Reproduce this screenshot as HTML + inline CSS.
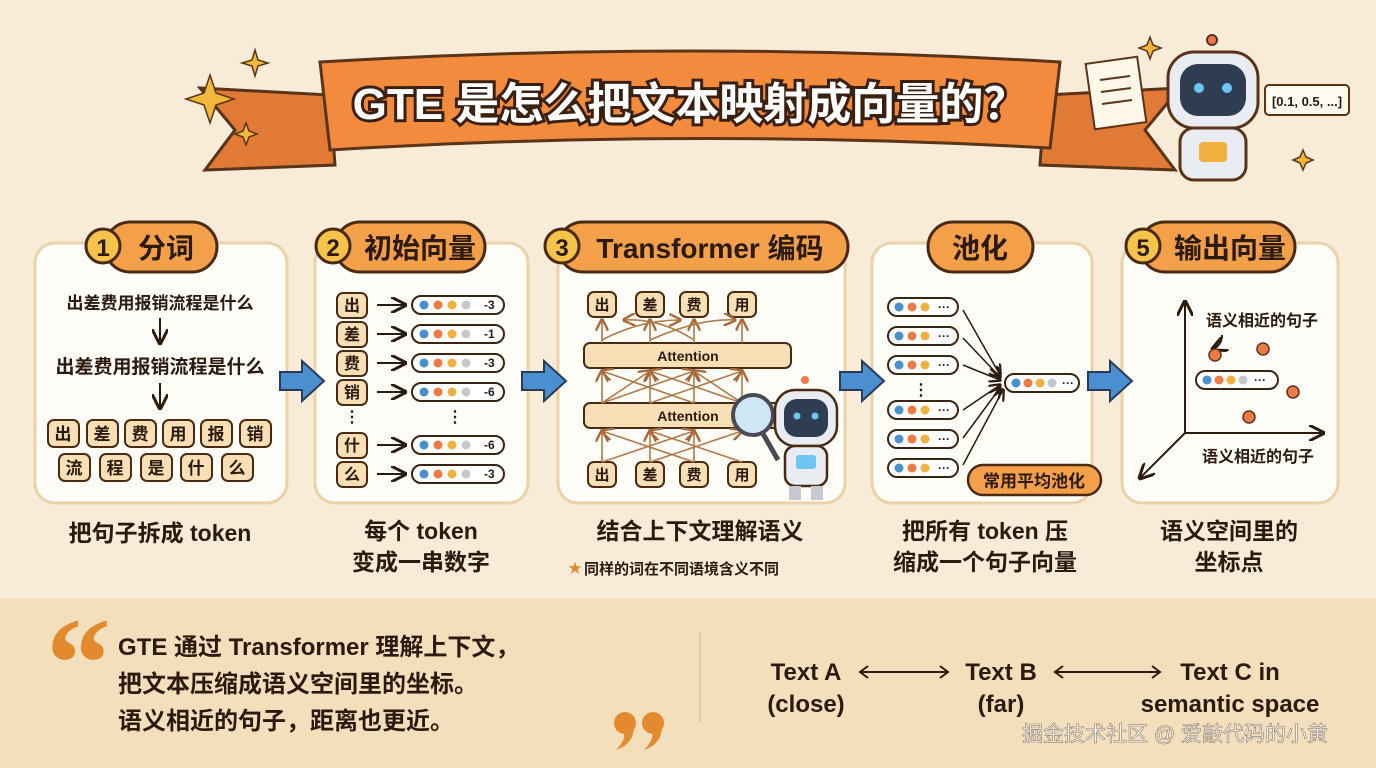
<!DOCTYPE html>
<html><head><meta charset="utf-8"><style>
html,body{margin:0;width:1376px;height:768px;overflow:hidden;background:#f8ecd9;}
svg{display:block;font-family:"Liberation Sans","Noto Sans CJK SC",sans-serif;}
.b{font-weight:bold;fill:#2b1a0e;}
</style></head><body>
<svg width="1376" height="768" viewBox="0 0 1376 768" xmlns="http://www.w3.org/2000/svg" overflow="hidden">
<defs>
<marker id="ah" markerWidth="8" markerHeight="8" refX="7" refY="4" orient="auto"><path d="M0,0 L8,4 L0,8" fill="none" stroke="#2b1a0e" stroke-width="1.5"/></marker>
<marker id="ab" markerWidth="8" markerHeight="8" refX="7" refY="4" orient="auto"><path d="M0,0 L8,4 L0,8" fill="none" stroke="#a86a3a" stroke-width="1.5"/></marker>
<g id="vec"><rect x="0" y="-9" width="92" height="18" rx="9" fill="#fff" stroke="#3a2414" stroke-width="2"/><circle cx="12" cy="0" r="4.5" fill="#4a8fd0"/><circle cx="26" cy="0" r="4.5" fill="#ee7a45"/><circle cx="40" cy="0" r="4.5" fill="#f2b03f"/><circle cx="54" cy="0" r="4.5" fill="#c6c8cf"/></g>
<g id="vs"><rect x="0" y="-9" width="70" height="18" rx="9" fill="#fff" stroke="#3a2414" stroke-width="2"/><circle cx="11" cy="0" r="4.5" fill="#4a8fd0"/><circle cx="24" cy="0" r="4.5" fill="#ee7a45"/><circle cx="37" cy="0" r="4.5" fill="#f2b03f"/><text x="50" y="4" font-size="12" class="b">···</text></g>
<g id="barrow"><path d="M0,-9 H22 V-20 L44,0 L22,20 V9 H0 Z" fill="#4a8fd0" stroke="#2b3b55" stroke-width="2"/></g>
<g id="comma"><circle cx="11" cy="11" r="11"/><path d="M20,14 Q20,32 2,38 Q12,28 10,20 Z"/></g>
</defs>
<rect x="0" y="598" width="1376" height="170" fill="#f4dfbd"/>
<!-- title ribbon -->
<path d="M200,88 L330,95 L335,165 L205,170 L235,130 Z" fill="#e07a35" stroke="#5a3418" stroke-width="3"/>
<path d="M1180,88 L1045,95 L1040,165 L1175,170 L1145,130 Z" fill="#e07a35" stroke="#5a3418" stroke-width="3"/>
<path d="M320,62 Q690,40 1060,62 L1050,148 Q690,128 330,150 Z" fill="#f28b3e" stroke="#5a3418" stroke-width="3"/>
<text x="690" y="119" text-anchor="middle" font-size="44" font-weight="bold" fill="#fff" stroke="#3a2010" stroke-width="6" paint-order="stroke">GTE 是怎么把文本映射成向量的？</text>
<!-- sparkles -->
<g fill="#f2b83a" stroke="#5a3418" stroke-width="1.5">
<path d="M210,75 L216,93 L234,99 L216,105 L210,123 L204,105 L186,99 L204,93Z"/>
<path d="M255,50 L258,60 L268,63 L258,66 L255,76 L252,66 L242,63 L252,60Z"/>
<path d="M246,123 L249,131 L257,134 L249,137 L246,145 L243,137 L235,134 L243,131Z"/>
<path d="M1150,37 L1153,45 L1161,48 L1153,51 L1150,59 L1147,51 L1139,48 L1147,45Z"/>
<path d="M1303,150 L1306,157 L1313,160 L1306,163 L1303,170 L1300,163 L1293,160 L1300,157Z"/>
</g>
<!-- top robot -->
<rect x="1090" y="60" width="52" height="66" fill="#fff8e8" stroke="#5a3418" stroke-width="2" transform="rotate(-8 1116 93)"/>
<g stroke="#5a3418" stroke-width="2"><line x1="1100" y1="80" x2="1130" y2="76"/><line x1="1101" y1="92" x2="1131" y2="88"/><line x1="1102" y1="104" x2="1132" y2="100"/></g>
<circle cx="1212" cy="40" r="5" fill="#ee7a45" stroke="#5a3418" stroke-width="2"/>
<rect x="1168" y="52" width="90" height="76" rx="26" fill="#e9edf2" stroke="#5a3418" stroke-width="3"/>
<rect x="1180" y="64" width="66" height="52" rx="18" fill="#2f3d52"/>
<circle cx="1199" cy="88" r="5" fill="#6cc6f0"/><circle cx="1227" cy="88" r="5" fill="#6cc6f0"/>
<rect x="1180" y="128" width="66" height="52" rx="14" fill="#e9edf2" stroke="#5a3418" stroke-width="3"/>
<rect x="1199" y="142" width="28" height="20" rx="4" fill="#f2b03f"/>
<rect x="1265" y="85" width="84" height="30" rx="4" fill="#fffaf0" stroke="#5a3418" stroke-width="2"/>
<text x="1307" y="106" text-anchor="middle" font-size="13" class="b">[0.1, 0.5, ...]</text>
<!-- panels -->
<g fill="#fffdf8" stroke="#ecd2a8" stroke-width="3">
<rect x="35" y="243" width="252" height="260" rx="20"/>
<rect x="315" y="243" width="213" height="260" rx="20"/>
<rect x="558" y="243" width="287" height="260" rx="20"/>
<rect x="872" y="243" width="220" height="260" rx="20"/>
<rect x="1122" y="243" width="216" height="260" rx="20"/>
</g>
<!-- headers -->
<g stroke="#4a2a12" stroke-width="3">
<rect x="105" y="222" width="112" height="50" rx="25" fill="#f4a04a"/><circle cx="103" cy="246" r="17" fill="#f5c24a"/>
<rect x="335" y="222" width="150" height="50" rx="25" fill="#f4a04a"/><circle cx="333" cy="246" r="17" fill="#f5c24a"/>
<rect x="558" y="222" width="290" height="50" rx="25" fill="#f4a04a"/><circle cx="562" cy="246" r="17" fill="#f5c24a"/>
<rect x="928" y="222" width="105" height="50" rx="25" fill="#f4a04a"/>
<rect x="1140" y="222" width="155" height="50" rx="25" fill="#f4a04a"/><circle cx="1143" cy="246" r="17" fill="#f5c24a"/>
</g>
<g class="b" font-size="28" text-anchor="middle">
<text x="103" y="256" font-size="24">1</text><text x="166" y="258">分词</text>
<text x="333" y="256" font-size="24">2</text><text x="420" y="258">初始向量</text>
<text x="562" y="256" font-size="24">3</text><text x="710" y="258">Transformer 编码</text>
<text x="980" y="258">池化</text>
<text x="1143" y="256" font-size="24">5</text><text x="1230" y="258">输出向量</text>
</g>
<!-- panel 1 -->
<g class="b" text-anchor="middle">
<text x="160" y="309" font-size="17">出差费用报销流程是什么</text>
<text x="160" y="373" font-size="19">出差费用报销流程是什么</text>
</g>
<line x1="160" y1="318" x2="160" y2="343" stroke="#2b1a0e" stroke-width="2" marker-end="url(#ah)"/>
<line x1="160" y1="383" x2="160" y2="408" stroke="#2b1a0e" stroke-width="2" marker-end="url(#ah)"/>
<g fill="#f8dfb5" stroke="#4a2a12" stroke-width="2">
<rect x="48" y="420" width="31" height="27" rx="6"/><rect x="87" y="420" width="31" height="27" rx="6"/><rect x="125" y="420" width="31" height="27" rx="6"/><rect x="163" y="420" width="31" height="27" rx="6"/><rect x="201" y="420" width="31" height="27" rx="6"/><rect x="240" y="420" width="31" height="27" rx="6"/>
<rect x="59" y="454" width="31" height="27" rx="6"/><rect x="100" y="454" width="31" height="27" rx="6"/><rect x="141" y="454" width="31" height="27" rx="6"/><rect x="181" y="454" width="31" height="27" rx="6"/><rect x="222" y="454" width="31" height="27" rx="6"/>
</g>
<g class="b" font-size="17" text-anchor="middle">
<text x="63" y="440">出</text><text x="102" y="440">差</text><text x="140" y="440">费</text><text x="178" y="440">用</text><text x="216" y="440">报</text><text x="255" y="440">销</text>
<text x="74" y="474">流</text><text x="115" y="474">程</text><text x="156" y="474">是</text><text x="196" y="474">什</text><text x="237" y="474">么</text>
</g>
<!-- panel 2 -->
<g fill="#f8dfb5" stroke="#4a2a12" stroke-width="2">
<rect x="337" y="293" width="30" height="25" rx="6"/><rect x="337" y="322" width="30" height="25" rx="6"/><rect x="337" y="351" width="30" height="25" rx="6"/><rect x="337" y="380" width="30" height="25" rx="6"/><rect x="337" y="433" width="30" height="25" rx="6"/><rect x="337" y="462" width="30" height="25" rx="6"/>
</g>
<g class="b" font-size="16" text-anchor="middle">
<text x="352" y="311">出</text><text x="352" y="340">差</text><text x="352" y="369">费</text><text x="352" y="398">销</text><text x="352" y="451">什</text><text x="352" y="480">么</text>
<text x="352" y="422">⋮</text><text x="455" y="422">⋮</text>
</g>
<g stroke="#2b1a0e" stroke-width="2" marker-end="url(#ah)">
<line x1="377" y1="305" x2="405" y2="305"/><line x1="377" y1="334" x2="405" y2="334"/><line x1="377" y1="363" x2="405" y2="363"/><line x1="377" y1="392" x2="405" y2="392"/><line x1="377" y1="445" x2="405" y2="445"/><line x1="377" y1="474" x2="405" y2="474"/>
</g>
<g font-size="12" class="b">
<use href="#vec" x="412" y="305"/><text x="484" y="309">-3</text>
<use href="#vec" x="412" y="334"/><text x="484" y="338">-1</text>
<use href="#vec" x="412" y="363"/><text x="484" y="367">-3</text>
<use href="#vec" x="412" y="392"/><text x="484" y="396">-6</text>
<use href="#vec" x="412" y="445"/><text x="484" y="449">-6</text>
<use href="#vec" x="412" y="474"/><text x="484" y="478">-3</text>
</g>
<!-- panel 3 -->
<g fill="#f8dfb5" stroke="#4a2a12" stroke-width="2">
<rect x="588" y="292" width="28" height="25" rx="6"/><rect x="636" y="292" width="28" height="25" rx="6"/><rect x="680" y="292" width="28" height="25" rx="6"/><rect x="728" y="292" width="28" height="25" rx="6"/>
<rect x="588" y="462" width="28" height="25" rx="6"/><rect x="636" y="462" width="28" height="25" rx="6"/><rect x="680" y="462" width="28" height="25" rx="6"/><rect x="728" y="462" width="28" height="25" rx="6"/>
<rect x="584" y="343" width="207" height="25" rx="6"/><rect x="584" y="403" width="207" height="25" rx="6"/>
</g>
<g class="b" font-size="15" text-anchor="middle">
<text x="602" y="310">出</text><text x="650" y="310">差</text><text x="694" y="310">费</text><text x="742" y="310">用</text>
<text x="602" y="480">出</text><text x="650" y="480">差</text><text x="694" y="480">费</text><text x="742" y="480">用</text>
<text x="688" y="361" font-size="14">Attention</text><text x="688" y="421" font-size="14">Attention</text>
</g>
<g stroke="#b07a4a" stroke-width="1.6" fill="none" marker-end="url(#ab)">
<line x1="602" y1="343" x2="602" y2="320"/><line x1="650" y1="343" x2="650" y2="320"/><line x1="694" y1="343" x2="694" y2="320"/><line x1="742" y1="343" x2="742" y2="320"/>
<path d="M602,340 Q640,320 680,320"/><path d="M694,340 Q660,318 624,320"/><path d="M650,340 Q700,318 735,320"/>
<line x1="602" y1="403" x2="602" y2="371"/><line x1="650" y1="403" x2="650" y2="371"/><line x1="694" y1="403" x2="694" y2="371"/><line x1="742" y1="403" x2="742" y2="371"/>
<line x1="602" y1="403" x2="694" y2="371"/><line x1="694" y1="403" x2="602" y2="371"/><line x1="650" y1="403" x2="742" y2="371"/><line x1="742" y1="403" x2="650" y2="371"/><line x1="602" y1="403" x2="650" y2="371"/><line x1="742" y1="403" x2="694" y2="371"/>
<line x1="602" y1="462" x2="602" y2="431"/><line x1="650" y1="462" x2="650" y2="431"/><line x1="694" y1="462" x2="694" y2="431"/>
<line x1="602" y1="462" x2="694" y2="431"/><line x1="694" y1="462" x2="602" y2="431"/><line x1="650" y1="462" x2="742" y2="431"/><line x1="742" y1="462" x2="650" y2="431"/>
</g>
<!-- small robot -->
<circle cx="753" cy="415" r="20" fill="#cfe6f5" stroke="#4a4a55" stroke-width="4"/>
<line x1="762" y1="432" x2="778" y2="460" stroke="#4a4a55" stroke-width="5"/>
<circle cx="805" cy="380" r="4" fill="#ee7a45"/>
<rect x="775" y="390" width="62" height="56" rx="20" fill="#e9edf2" stroke="#4a2a12" stroke-width="2.5"/>
<rect x="784" y="399" width="44" height="38" rx="13" fill="#2f3d52"/>
<circle cx="797" cy="416" r="3.5" fill="#6cc6f0"/><circle cx="815" cy="416" r="3.5" fill="#6cc6f0"/>
<rect x="785" y="446" width="42" height="40" rx="10" fill="#e9edf2" stroke="#4a2a12" stroke-width="2.5"/>
<rect x="796" y="455" width="20" height="14" rx="3" fill="#6cc6f0"/>
<rect x="789" y="486" width="12" height="14" fill="#c6c8cf"/><rect x="811" y="486" width="12" height="14" fill="#c6c8cf"/>
<!-- panel 4 -->
<use href="#vs" x="888" y="307"/><use href="#vs" x="888" y="336"/><use href="#vs" x="888" y="365"/>
<text x="921" y="395" class="b" font-size="16" text-anchor="middle">⋮</text>
<use href="#vs" x="888" y="410"/><use href="#vs" x="888" y="439"/><use href="#vs" x="888" y="468"/>
<g stroke="#2b1a0e" stroke-width="1.5" marker-end="url(#ah)">
<line x1="963" y1="310" x2="1000" y2="375"/><line x1="963" y1="338" x2="1000" y2="377"/><line x1="963" y1="365" x2="1000" y2="380"/>
<line x1="963" y1="410" x2="1000" y2="385"/><line x1="963" y1="438" x2="1000" y2="388"/><line x1="963" y1="465" x2="1003" y2="390"/>
</g>
<g transform="translate(1005,383)"><rect x="0" y="-9" width="74" height="18" rx="9" fill="#fff" stroke="#3a2414" stroke-width="2"/><circle cx="11" cy="0" r="4.5" fill="#4a8fd0"/><circle cx="23" cy="0" r="4.5" fill="#ee7a45"/><circle cx="35" cy="0" r="4.5" fill="#f2b03f"/><circle cx="47" cy="0" r="4.5" fill="#c6c8cf"/><text x="57" y="4" font-size="12" class="b">···</text></g>
<rect x="968" y="465" width="133" height="30" rx="15" fill="#f4a04a" stroke="#4a2a12" stroke-width="2.5"/>
<text x="1034" y="487" class="b" font-size="17" text-anchor="middle">常用平均池化</text>
<!-- panel 5 -->
<g stroke="#2b1a0e" stroke-width="2" fill="none" marker-end="url(#ah)">
<line x1="1185" y1="433" x2="1185" y2="302"/><line x1="1185" y1="433" x2="1323" y2="433"/><line x1="1185" y1="433" x2="1140" y2="478"/>
<path d="M1222,335 Q1222,345 1213,349"/>
</g>
<text x="1262" y="326" class="b" font-size="16" text-anchor="middle">语义相近的句子</text>
<text x="1258" y="462" class="b" font-size="16" text-anchor="middle">语义相近的句子</text>
<g fill="#ee7a45" stroke="#5a3418" stroke-width="1.5">
<circle cx="1215" cy="355" r="6"/><circle cx="1263" cy="349" r="6"/><circle cx="1293" cy="392" r="6"/><circle cx="1249" cy="417" r="6"/>
</g>
<g transform="translate(1196,380)"><rect x="0" y="-9" width="82" height="18" rx="9" fill="#fff" stroke="#3a2414" stroke-width="2"/><circle cx="11" cy="0" r="4.5" fill="#4a8fd0"/><circle cx="23" cy="0" r="4.5" fill="#ee7a45"/><circle cx="35" cy="0" r="4.5" fill="#f2b03f"/><circle cx="47" cy="0" r="4.5" fill="#c6c8cf"/><text x="58" y="4" font-size="12" class="b">···</text></g>
<!-- blue arrows -->
<use href="#barrow" x="280" y="381"/><use href="#barrow" x="522" y="381"/><use href="#barrow" x="840" y="381"/><use href="#barrow" x="1088" y="381"/>
<!-- captions -->
<g class="b" font-size="23" text-anchor="middle">
<text x="160" y="541">把句子拆成 token</text>
<text x="421" y="539">每个 token</text><text x="421" y="570">变成一串数字</text>
<text x="700" y="539">结合上下文理解语义</text>
<text x="985" y="539">把所有 token 压</text><text x="985" y="570">缩成一个句子向量</text>
<text x="1229" y="539">语义空间里的</text><text x="1229" y="570">坐标点</text>
</g>
<text x="568" y="573" font-size="14" fill="#e08a30">★</text>
<text x="584" y="574" class="b" font-size="15">同样的词在不同语境含义不同</text>
<!-- bottom -->
<text x="46" y="707" font-size="130" font-weight="bold" fill="#e38a2e" font-family="Liberation Serif, serif">“</text>
<g fill="#e38a2e"><use href="#comma" x="614" y="712"/><use href="#comma" x="642" y="712"/></g>
<g class="b" font-size="24">
<text x="118" y="655">GTE 通过 Transformer 理解上下文，</text>
<text x="118" y="692">把文本压缩成语义空间里的坐标。</text>
<text x="118" y="729">语义相近的句子，距离也更近。</text>
</g>
<line x1="700" y1="632" x2="700" y2="722" stroke="#e2c9a2" stroke-width="2"/>
<g class="b" font-size="24" text-anchor="middle">
<text x="806" y="680">Text A</text><text x="806" y="712">(close)</text>
<text x="1001" y="680">Text B</text><text x="1001" y="712">(far)</text>
<text x="1230" y="680">Text C in</text><text x="1230" y="712">semantic space</text>
</g>
<g fill="none" stroke="#2b1a0e" stroke-width="2">
<line x1="860" y1="672" x2="948" y2="672"/><line x1="1055" y1="672" x2="1160" y2="672"/>
<path d="M868,666 L860,672 L868,678 M940,666 L948,672 L940,678 M1063,666 L1055,672 L1063,678 M1152,666 L1160,672 L1152,678"/>
</g>
<text x="1175" y="741" text-anchor="middle" font-size="21" fill="#fff" stroke="#8a7a66" stroke-width="0.6">掘金技术社区 @ 爱敲代码的小黄</text>
</svg>
</body></html>
